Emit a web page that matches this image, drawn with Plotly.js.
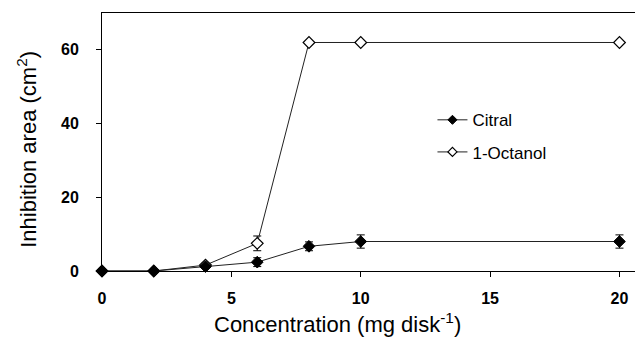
<!DOCTYPE html>
<html><head><meta charset="utf-8">
<script src="https://cdn.plot.ly/plotly-3.0.1.min.js"></script>
<style>body{margin:0;padding:0;background:#fff}#chart{width:635px;height:344px}</style>
</head><body><div id="chart"></div>
<script>
const concentration = [0, 2, 4, 6, 8, 10, 20];
const citral = [0, 0, 1.2, 2.4, 6.7, 8.0, 8.0];
const citralErr = [0, 0, 0.4, 1.2, 1.2, 1.8, 1.8];
const octanol = [0, 0, 1.6, 7.5, 62, 62, 62];
const octanolErr = [0, 0, 0.5, 2.0, 0, 0, 0];
const seriesNames = ['Citral', '1-Octanol'];
const xTicks = [0, 5, 10, 15, 20];
const yTicks = [0, 20, 40, 60];
const xTitle = 'Concentration (mg disk<sup>-1</sup>)';
const yTitle = 'Inhibition area (cm<sup>2</sup>)';

const FONT = 'Liberation Sans, Arial, sans-serif';
const lineStyle = {color: '#222', width: 1};
const openMarker = {symbol: 'diamond', size: 9, color: '#fff', line: {color: '#000', width: 1.2}};
const fillMarker = {symbol: 'diamond', size: 9, color: '#000', line: {color: '#000', width: 1}};

const traces = [
  {x: concentration, y: octanol, name: seriesNames[1], type: 'scatter', mode: 'lines+markers',
   line: lineStyle, marker: openMarker, showlegend: false,
   error_y: {type: 'data', array: octanolErr, visible: true, color: '#000', thickness: 1, width: 4},
   cliponaxis: false},
  {x: concentration, y: citral, name: seriesNames[0], type: 'scatter', mode: 'lines+markers',
   line: lineStyle, marker: fillMarker, showlegend: false,
   error_y: {type: 'data', array: citralErr, visible: true, color: '#000', thickness: 1, width: 4},
   cliponaxis: false},
  {x: [null], y: [null], name: seriesNames[0], type: 'scatter', mode: 'lines+markers',
   line: lineStyle, marker: Object.assign({}, fillMarker, {size: 7}), legendgroup: 'a'},
  {x: [null], y: [null], name: seriesNames[1], type: 'scatter', mode: 'lines+markers',
   line: lineStyle, marker: Object.assign({}, openMarker, {size: 7}), legendgroup: 'b'}
];
const layout = {
  width: 635, height: 344,
  margin: {l: 102, r: 0, t: 13, b: 73},
  paper_bgcolor: '#fff', plot_bgcolor: '#fff',
  font: {family: FONT, color: '#000'},
  showlegend: true,
  legend: {x: 0.62, y: 0.654, xanchor: 'left', yanchor: 'top', traceorder: 'grouped',
           font: {size: 17, color: '#000', family: FONT}, bgcolor: 'rgba(0,0,0,0)', tracegroupgap: 7},
  xaxis: {range: [0, 20.6], tickvals: xTicks, ticktext: xTicks.map(String),
          showgrid: false, zeroline: false, showline: true, linecolor: '#000', linewidth: 1,
          mirror: true, ticks: 'outside', ticklen: 5, tickcolor: '#000', ticklabelstandoff: 8,
          tickfont: {size: 16, family: FONT, weight: 'bold'}},
  yaxis: {range: [0, 70], tickvals: yTicks, ticktext: yTicks.map(String),
          showgrid: false, zeroline: false, showline: true, linecolor: '#000', linewidth: 1,
          mirror: true, ticks: 'outside', ticklen: 5, tickcolor: '#000', ticklabelstandoff: 14,
          tickfont: {size: 16, family: FONT, weight: 'bold'}},
  annotations: [
    {text: xTitle, xref: 'paper', yref: 'paper', x: 0.441, y: -0.2, xanchor: 'center', yanchor: 'middle',
     showarrow: false, font: {size: 22, family: FONT, color: '#000'}},
    {text: yTitle, xref: 'paper', yref: 'paper', x: -0.141, y: 0.473, xanchor: 'center', yanchor: 'middle',
     textangle: -90, showarrow: false, font: {size: 22, family: FONT, color: '#000'}}
  ]
};
Plotly.newPlot('chart', traces, layout, {staticPlot: true, displayModeBar: false});
</script></body></html>
